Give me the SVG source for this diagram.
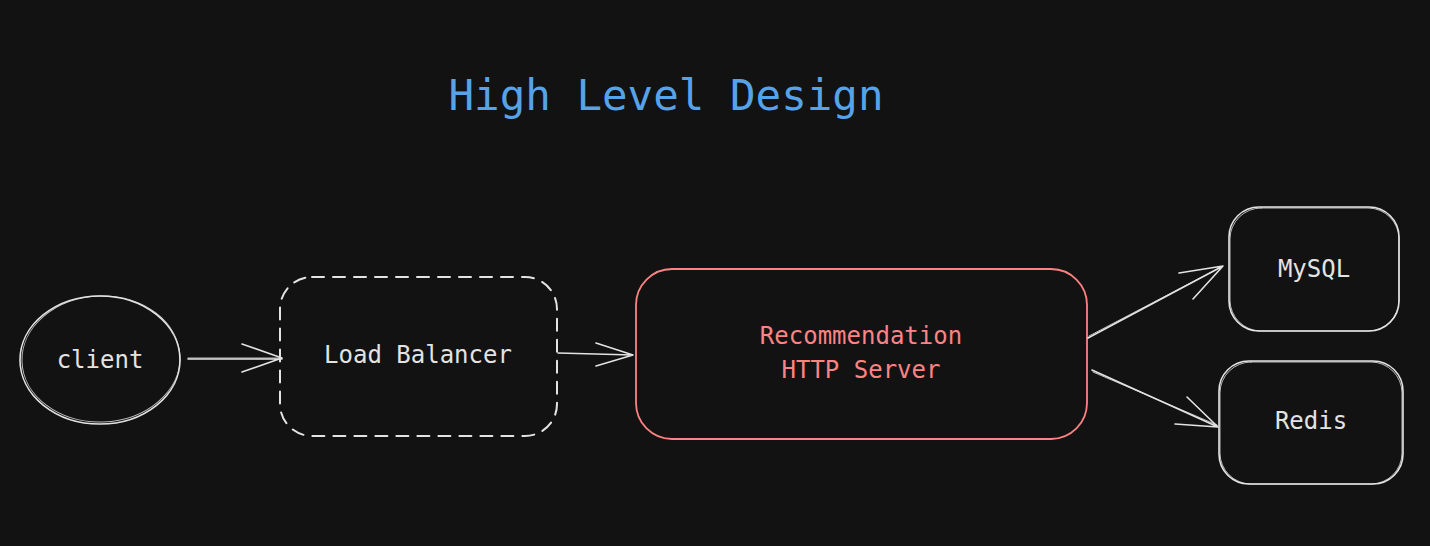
<svg xmlns="http://www.w3.org/2000/svg" width="1430" height="546" viewBox="0 0 1430 546">
<style>
.bg{fill:#121212}
.sk{fill:none;stroke:#e3e3e3;stroke-width:1.6;stroke-linecap:round;stroke-linejoin:round}
.sk2{fill:none;stroke:#e3e3e3;stroke-width:1;stroke-linecap:round;opacity:0.8}
.red{fill:none;stroke:#ff8383;stroke-width:1.8}
.dash{fill:none;stroke:#e3e3e3;stroke-width:2;stroke-dasharray:12 9;stroke-linecap:round}
.t{font-family:"DejaVu Sans Mono","Liberation Mono",monospace;font-size:24px;fill:#e3e3e3;text-anchor:middle}
.tr{fill:#ff8383}
.title{font-family:"DejaVu Sans Mono","Liberation Mono",monospace;font-size:42.5px;fill:#56a3e8;text-anchor:middle}
</style>
<rect class="bg" x="0" y="0" width="1430" height="546"/>
<g id="title"><text class="title" x="666" y="110">High Level Design</text></g>
<g id="client">
<ellipse class="sk" cx="100" cy="360" rx="80" ry="64"/>
<ellipse class="sk2" cx="101" cy="359" rx="79" ry="63" transform="rotate(-2 100 360)"/>
<text class="t" x="100" y="368">client</text>
</g>
<g id="loadbalancer">
<rect class="dash" x="280" y="277" width="277" height="159" rx="32"/>
<text class="t" x="418" y="363">Load Balancer</text>
</g>
<g id="server">
<rect class="red" x="636" y="269" width="451" height="170" rx="36"/>
<text class="t tr" x="861" y="344">Recommendation</text>
<text class="t tr" x="861" y="378">HTTP Server</text>
</g>
<g id="mysql">
<rect class="sk" x="1229" y="207" width="170" height="124" rx="30"/>
<rect class="sk2" x="1230" y="208" width="169" height="123" rx="31"/>
<text class="t" x="1314" y="277">MySQL</text>
</g>
<g id="redis">
<rect class="sk" x="1219" y="361" width="184" height="123" rx="30"/>
<rect class="sk2" x="1220" y="362" width="182" height="122" rx="31"/>
<text class="t" x="1311" y="429">Redis</text>
</g>
<g id="connectors">
<path class="sk" d="M188 359 L282 359 M242 344 L282 358 L242 372"/>
<path class="sk2" d="M188 358 L281 358"/>
<path class="sk" d="M558 353 L633 355 M596 343 L633 355 L596 366"/>
<path class="sk" d="M1088 338 L1223 266 M1179 273 L1223 266 L1193 299"/>
<path class="sk2" d="M1089 336 L1221 267"/>
<path class="sk" d="M1092 370 L1218 427 M1187 397 L1218 427 L1175 424"/>
<path class="sk2" d="M1093 372 L1217 425"/>
</g>
</svg>
